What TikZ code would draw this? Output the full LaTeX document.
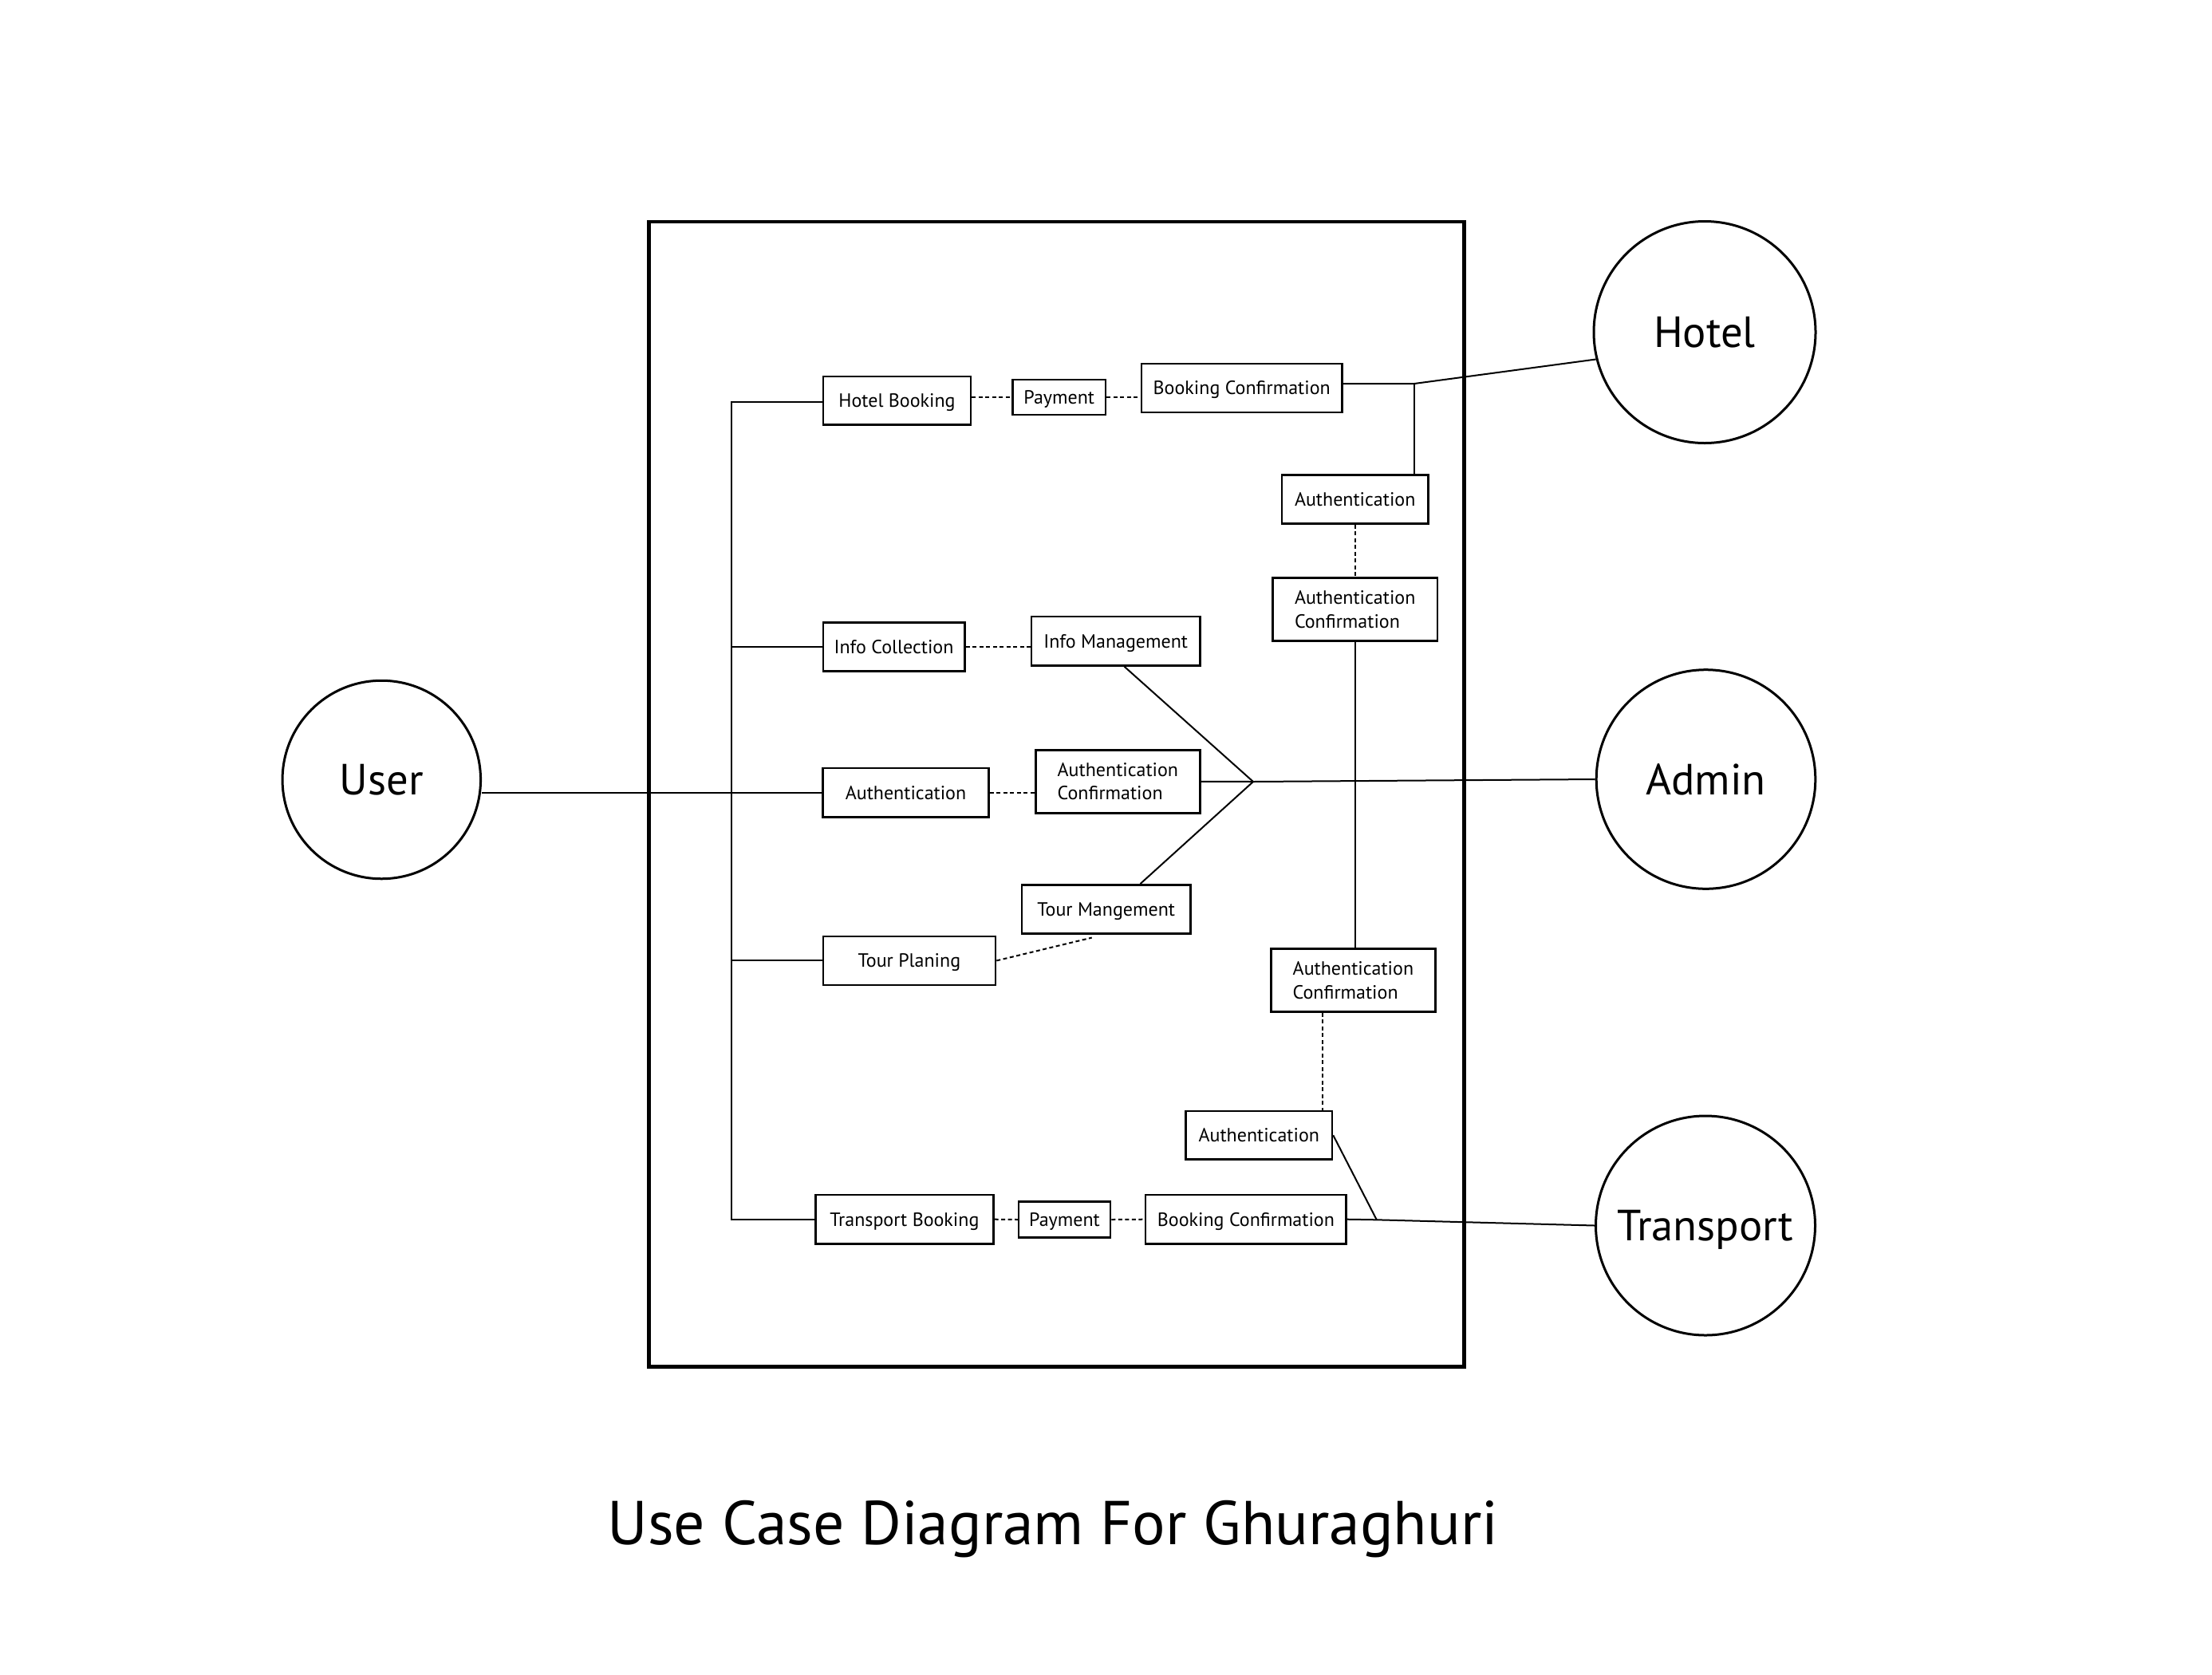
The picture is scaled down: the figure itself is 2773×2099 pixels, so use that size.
\documentclass[tikz,border=0pt]{standalone}
\usepackage{fontspec}
\setmainfont{PT Sans}
\usetikzlibrary{calc}
\tikzset{
  ucbase/.style={draw, rectangle, line width=2.5pt, inner sep=0pt, font=\fontsize{24}{29.3}\selectfont},
  ucbox/.style={ucbase, align=center, text height=16.8pt, text depth=0pt},
  ucboxtwo/.style={ucbase, align=left},
  actor/.style={draw, circle, line width=3pt, inner sep=0pt, font=\fontsize{54.7}{60}\selectfont, text height=38.3pt, text depth=0pt},
  conn/.style={line width=2pt},
  ucdash/.style={line width=2pt, dash pattern=on 5pt off 3.5pt},
  frame/.style={draw, line width=4.5pt}
}
\begin{document}
\begin{tikzpicture}[x=1pt,y=-1pt]
\fill[white] (0,0) rectangle (2773,2099);
\useasboundingbox (0,0) rectangle (2773,2099);

% system boundary
\draw[frame] (813.5,278) rectangle (1835.7,1713.6);

% actors
\node[actor, minimum size=248.5pt] (User) at (478.3,977.5) {User};
\node[actor, minimum size=278pt] (Hotel) at (2137,416.5) {Hotel};
\node[actor, minimum size=274.6pt] (Admin) at (2138.5,977) {Admin};
\node[actor, minimum size=275pt] (Transport) at (2138,1536.5) {Transport};

% use cases
\node[ucbox, minimum width=185pt, minimum height=60.5pt] (HB) at (1124.5,502.2) {Hotel Booking};
\node[ucbox, minimum width=116.6pt, minimum height=44.3pt] (P1) at (1327.7,497.9) {Payment};
\node[ucbox, minimum width=251.8pt, minimum height=61.3pt] (BC1) at (1556.7,486.4) {Booking Confirmation};
\node[ucbox, minimum width=183.4pt, minimum height=61pt] (A1) at (1698.7,625.8) {Authentication};
\node[ucboxtwo, minimum width=206.3pt, minimum height=79.4pt] (AC1) at (1698.7,764) {Authentication\\Confirmation};
\node[ucbox, minimum width=177.5pt, minimum height=61.2pt] (IC) at (1120.5,811.1) {Info Collection};
\node[ucbox, minimum width=211.6pt, minimum height=61.3pt] (IM) at (1398.7,803.7) {Info Management};
\node[ucbox, minimum width=207.6pt, minimum height=61.3pt] (A2) at (1135.5,993.7) {Authentication};
\node[ucboxtwo, minimum width=206.3pt, minimum height=79pt] (AC2) at (1401.4,979.8) {Authentication\\Confirmation};
\node[ucbox, minimum width=211.5pt, minimum height=61pt] (TM) at (1386.7,1139.8) {Tour Mangement};
\node[ucbox, minimum width=216.3pt, minimum height=60.7pt] (TP) at (1139.9,1204.4) {Tour Planing};
\node[ucboxtwo, minimum width=206.2pt, minimum height=79.4pt] (AC3) at (1696.4,1229) {Authentication\\Confirmation};
\node[ucbox, minimum width=183.5pt, minimum height=60.7pt] (A3) at (1578.3,1423.3) {Authentication};
\node[ucbox, minimum width=222.9pt, minimum height=61.3pt] (TB) at (1133.9,1528.7) {Transport Booking};
\node[ucbox, minimum width=115pt, minimum height=45.4pt] (P2) at (1334.5,1529) {Payment};
\node[ucbox, minimum width=251.4pt, minimum height=61.3pt] (BC2) at (1561.9,1528.7) {Booking Confirmation};

% title
\node[font=\fontsize{77.6}{90}\selectfont, anchor=base] (title) at (1320,1936) {Use Case Diagram For Ghuraghuri};

% junction coordinates
\coordinate (busTop) at (916.5,503.7);
\coordinate (busBot) at (916.5,1528.7);
\coordinate (HJ) at (1773,481);
\coordinate (J) at (1571,980);
\coordinate (TJ) at (1725.8,1529.3);
\coordinate (TMend) at ($(TM.south)+(-18,4)$);
\coordinate (IMout) at ($(IM.south)+(10.7,0)$);
\coordinate (TMout) at ($(TM.north)+(42.8,0)$);
\coordinate (AC3out) at ($(AC3.south)+(-38,0)$);

% user side
\draw[conn] (A2.west -| User.east) -- (A2.west);
\draw[conn] (HB.west |- busTop) -- (busTop) -- (busBot) -- (TB.west |- busBot);
\draw[conn] (IC.west) -- (IC.west -| busTop);
\draw[conn] (TP.west) -- (TP.west -| busTop);

% dotted includes
\draw[ucdash] (P1.west -| HB.east) -- (P1.west);
\draw[ucdash] (P1.east) -- (P1.east -| BC1.west);
\draw[ucdash] (IC.east) -- (IC.east -| IM.west);
\draw[ucdash] (A2.east) -- (A2.east -| AC2.west);
\draw[ucdash] (TP.east) -- (TMend);
\draw[ucdash] (TB.east) -- (P2.west);
\draw[ucdash] (P2.east) -- (BC2.west);

% hotel
\draw[conn] (BC1.east |- HJ) -- (HJ) -- (Hotel.194.5);
\draw[conn] (HJ) -- (HJ |- A1.north);
\draw[ucdash] (A1.south) -- (A1.south |- AC1.north);
\draw[conn] (AC1.south) -- (AC1.south |- AC3.north);

% admin
\draw[conn] (AC2.east) -- (J) -- (Admin.west);
\draw[conn] (IMout) -- (J);
\draw[conn] (TMout) -- (J);

% transport
\draw[ucdash] (AC3out) -- (AC3out |- A3.north);
\draw[conn] (A3.east) -- (TJ);
\draw[conn] (BC2.east) -- (TJ) -- (Transport.west);
\end{tikzpicture}
\end{document}
